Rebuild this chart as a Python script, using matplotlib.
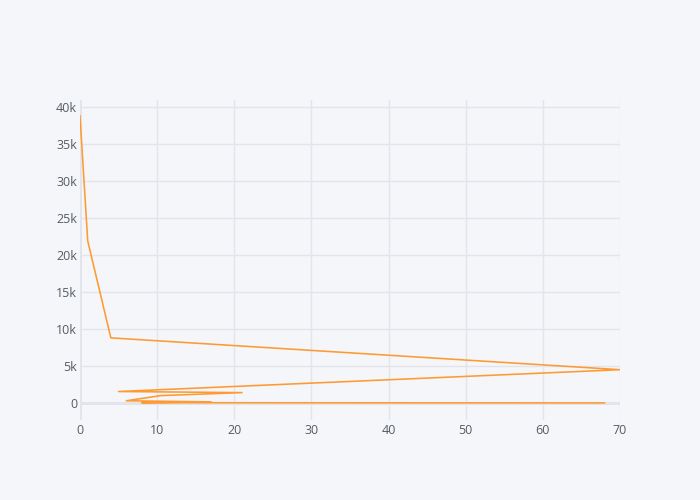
import matplotlib
matplotlib.use('Agg')
import matplotlib.pyplot as plt
from matplotlib.ticker import FuncFormatter

# data (x, y)
x_vals = [0, 1, 4, 70, 5, 21, 10.5, 6, 17, 8, 68]
y_vals = [38800, 21900, 8800, 4500, 1550, 1400, 1000, 300, 150, 40, 10]

x_ticks = [0, 10, 20, 30, 40, 50, 60, 70]
y_ticks = [0, 5000, 10000, 15000, 20000, 25000, 30000, 35000, 40000]

bg = '#f5f6f9'
grid_col = '#e2e5ec'
text_col = '#555b66'

plt.rcParams['font.family'] = ['Open Sans', 'DejaVu Sans']

fig = plt.figure(figsize=(7, 5), dpi=100, facecolor=bg)
ax = fig.add_axes([80 / 700, 80 / 500, 540 / 700, 320 / 500])
ax.set_facecolor(bg)

ax.plot(x_vals, y_vals, color='#ff9a33', linewidth=1.15, zorder=3)

ax.set_xlim(0, 70)
ax.set_ylim(-2300, 40950)
ax.set_xticks(x_ticks)
ax.set_yticks(y_ticks)
ax.yaxis.set_major_formatter(FuncFormatter(lambda v, p: '0' if v == 0 else f'{int(v / 1000)}k'))

ax.grid(True, color=grid_col, linewidth=1, zorder=0)
ax.axhline(0, color='#dfe3ea', linewidth=2, zorder=1)
ax.axvline(0, color='#dfe3ea', linewidth=2, zorder=1)

for s in ax.spines.values():
    s.set_visible(False)
ax.tick_params(length=0, labelsize=9, colors=text_col)
ax.tick_params(axis='x', pad=3)
ax.tick_params(axis='y', pad=2)

plt.savefig('out.png', dpi=100, facecolor=bg)
plt.close()
